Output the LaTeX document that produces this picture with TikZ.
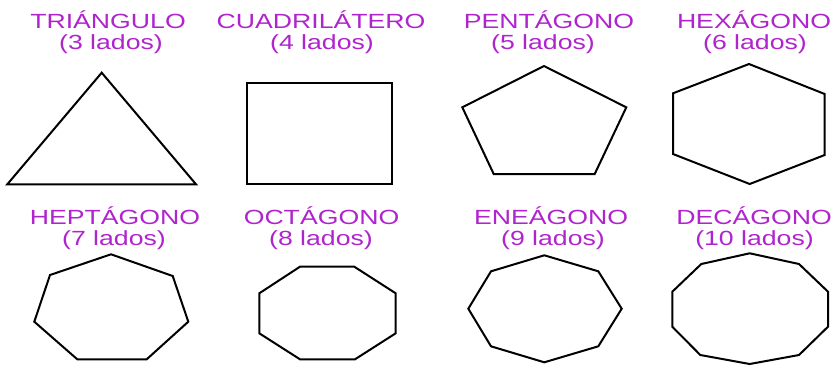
\documentclass[tikz,border=0pt]{standalone}
\usepackage{fontspec}
\usepackage{tikz}
\usetikzlibrary {positioning}
\newfontfamily\arialfont{Liberation Sans}
\definecolor{lila}{RGB}{176,36,206}
\newcommand{\wide}[1]{\scalebox{1.3}[1]{#1}}

\begin{document}
\begin{tikzpicture}[x=1pt, y=-1pt,
		lbl/.style={anchor=base, inner sep=0pt, text=lila, font=\arialfont\fontsize{20.5}{21}\selectfont},
		poly/.style={draw=black, line width=2pt}]
			\useasboundingbox[fill=white] (0, 0) rectangle (833, 365);
			
			\node[lbl] (n3) at (108, 28) {\wide{TRIÁNGULO}};
			\node[lbl] (l3) at (111, 49.5) {\wide{(3 lados)}};
			\node[lbl] (n4) at (321, 28) {\wide{CUADRILÁTERO}};
			\node[lbl] (l4) at (322, 49.5) {\wide{(4 lados)}};
			\node[lbl] (n5) at (549, 28) {\wide{PENTÁGONO}};
			\node[lbl] (l5) at (543, 49.5) {\wide{(5 lados)}};
			\node[lbl] (n6) at (754, 28) {\wide{HEXÁGONO}};
			\node[lbl] (l6) at (755, 49.5) {\wide{(6 lados)}};
			
			\node[lbl] (n7) at (115, 224) {\wide{HEPTÁGONO}};
			\node[lbl] (l7) at (114, 245) {\wide{(7 lados)}};
			\node[lbl] (n8) at (321.5, 224) {\wide{OCTÁGONO}};
			\node[lbl] (l8) at (321, 245) {\wide{(8 lados)}};
			\node[lbl] (n9) at (551, 224) {\wide{ENEÁGONO}};
			\node[lbl] (l9) at (553, 245) {\wide{(9 lados)}};
			\node[lbl] (n10) at (754, 224) {\wide{DECÁGONO}};
			\node[lbl] (l10) at (754.5, 245) {\wide{(10 lados)}};
			
			% fila de arriba
			\draw[poly] (101.7, 72.7) -- (196, 184.3) -- (7.3, 184.3) -- cycle;
			\draw[poly] (246.7, 83.3) rectangle (392.3, 184);
			\draw[poly] (544, 66) -- (626.3, 107.3) -- (594.7, 174) -- (493.7, 174) -- (462.3, 107.3) -- cycle;
			\draw[poly] (749, 64) -- (824.7, 94) -- (824.7, 155) -- (749.7, 184) -- (673, 154) -- (673, 93.3) -- cycle;
			
			% fila de abajo
			\draw[poly] (111, 254.3) -- (172.7, 276) -- (188.3, 321.7) -- (146.7, 359.3) -- (77.3, 359.3) -- (34.3, 321.7) -- (50, 275) -- cycle;
			\draw[poly] (300, 266.7) -- (354.3, 266.7) -- (395.7, 293.3) -- (395.7, 333.3) -- (355, 359.3) -- (300, 359.3) -- (259.3, 333.3) -- (259.3, 293.3) -- cycle;
			\draw[poly] (544.3, 255.3) -- (598.3, 271.3) -- (621.7, 308.7) -- (598.3, 346.3) -- (544.3, 362.3) -- (491, 346.3) -- (468.3, 308.7) -- (491, 271.3) -- cycle;
			\draw[poly] (749.7, 253.3) -- (799, 264) -- (828, 291.7) -- (828, 326.7) -- (799, 355) -- (749.7, 364) -- (700.3, 355) -- (672.3, 326.7) -- (672.3, 291.7) -- (701.3, 264) -- cycle;
		\end{tikzpicture}
\end{document}
